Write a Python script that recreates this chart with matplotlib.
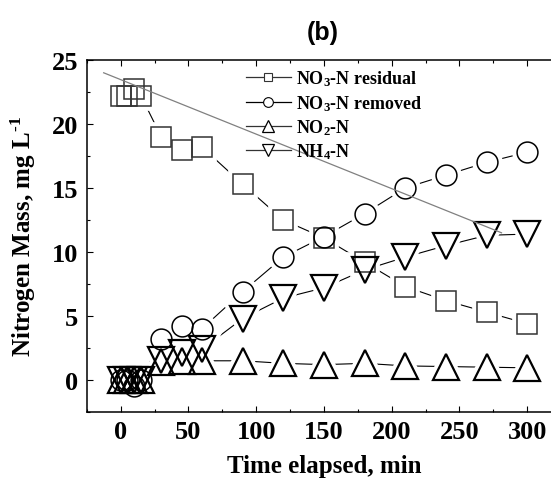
import matplotlib
matplotlib.use("Agg")
import matplotlib.pyplot as plt
from matplotlib.lines import Line2D
from matplotlib.ticker import MultipleLocator

plt.rcParams["font.family"] = ["Liberation Serif", "DejaVu Serif"]
plt.rcParams["font.weight"] = "bold"
plt.rcParams["mathtext.fontset"] = "custom"
plt.rcParams["mathtext.rm"] = "Liberation Serif:bold"
plt.rcParams["mathtext.it"] = "Liberation Serif:bold"
plt.rcParams["mathtext.bf"] = "Liberation Serif:bold"

# data
time = [0, 5, 10, 15, 30, 45, 60, 90, 120, 150, 180, 210, 240, 270, 300]
no3_residual = [22.2, 22.2, 22.7, 22.2, 19.0, 18.0, 18.2, 15.3, 12.5, 11.1, 9.2, 7.3, 6.2, 5.3, 4.4]
no3_removed = [0.0, 0.0, -0.5, 0.0, 3.2, 4.2, 4.0, 6.9, 9.6, 11.2, 13.0, 15.0, 16.0, 17.0, 17.8]
no2 = [0.0, 0.0, 0.0, 0.0, 1.4, 1.5, 1.5, 1.5, 1.3, 1.2, 1.3, 1.1, 1.05, 1.0, 0.95]
nh4 = [0.0, 0.0, 0.0, 0.0, 1.6, 2.1, 2.4, 4.8, 6.4, 7.2, 8.6, 9.6, 10.5, 11.3, 11.4]

# grey trend line end points
trend_x = [-12.5, 281]
trend_y = [24.0, 11.5]

labels = ["NO$_3$-N residual", "NO$_3$-N removed", "NO$_2$-N", "NH$_4$-N"]

fig = plt.figure(figsize=(5.51, 4.81), dpi=100)
ax = fig.add_axes([0.1574, 0.1414, 0.861, 0.7318])

series = [
    (no3_residual, "s", 14.5, 1.1, "#333333"),
    (no3_removed, "o", 15.0, 1.1, "black"),
    (no2, "^", 19.0, 1.6, "black"),
    (nh4, "v", 19.0, 1.6, "black"),
]

for vals, mk, ms, mew, col in series:
    # connecting line, with a white halo so it stops short of the symbols
    ax.plot(time, vals, color="black", lw=0.8, zorder=2)
    ax.plot(time, vals, ls="none", marker=mk, ms=ms, mfc="white",
            mec="white", mew=7, zorder=3)

for vals, mk, ms, mew, col in series:
    ax.plot(time, vals, ls="none", marker=mk, ms=ms, mfc="none",
            mec=col, mew=mew, zorder=4)

ax.plot(trend_x, trend_y, color="#808080", lw=0.9, zorder=5)

# legend with small symbols
handles = [
    Line2D([], [], color="#333333", lw=0.9, marker="s", ms=6, mfc="white", mec="#333333", mew=0.8),
    Line2D([], [], color="black", lw=0.9, marker="o", ms=7, mfc="white", mec="black", mew=0.8),
    Line2D([], [], color="#333333", lw=0.9, marker="^", ms=9, mfc="white", mec="black", mew=0.9),
    Line2D([], [], color="#333333", lw=0.9, marker="v", ms=9, mfc="white", mec="black", mew=0.9),
]
ax.legend(handles, labels, loc="upper left", bbox_to_anchor=(0.335, 0.975),
          frameon=False, fontsize=13, handlelength=2.5, handletextpad=0.3,
          labelspacing=0.25, borderpad=0, borderaxespad=0)

ax.set_xlim(-25, 325)
ax.set_ylim(-2.5, 25)
ax.xaxis.set_major_locator(MultipleLocator(50))
ax.xaxis.set_minor_locator(MultipleLocator(25))
ax.yaxis.set_major_locator(MultipleLocator(5))
ax.yaxis.set_minor_locator(MultipleLocator(2.5))
ax.tick_params(which="both", direction="in", top=True, right=False,
               width=0.8, labelsize=19, pad=6)
ax.tick_params(which="major", length=4.5)
ax.tick_params(which="minor", length=2.5)
ax.spines["right"].set_visible(False)
for s in ["left", "bottom", "top"]:
    ax.spines[s].set_linewidth(1.1)

ax.set_xlabel("Time elapsed, min", fontsize=18, fontweight="bold", labelpad=8)
ax.set_ylabel(r"Nitrogen Mass, mg L$^{\text{-}1}$", fontsize=18, fontweight="bold", labelpad=10)

fig.text(0.586, 0.931, "(b)", fontsize=18, fontweight="bold",
         family="Liberation Sans", ha="center", va="center")

fig.savefig("out.png", dpi=100)
